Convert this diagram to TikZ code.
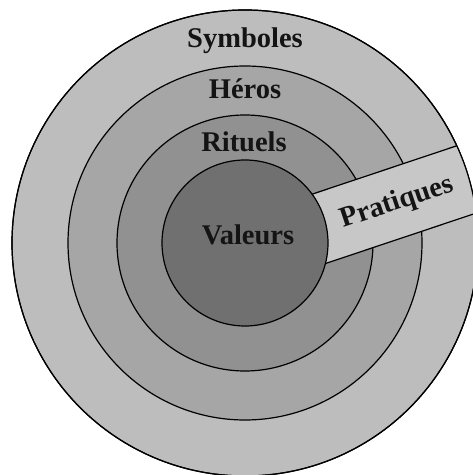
\documentclass[tikz,border=0pt]{standalone}
\usepackage{tikz}
\usepackage{fontspec}
\setmainfont{Liberation Serif}
\definecolor{ringA}{gray}{0.74}
\definecolor{ringB}{gray}{0.65}
\definecolor{ringC}{gray}{0.57}
\definecolor{ringD}{gray}{0.44}
\definecolor{bandc}{gray}{0.78}
\tikzset{
  ring/.style={draw=black, line width=1.2pt},
  lab/.style={font=\fontsize{28.5}{32}\selectfont\bfseries, inner sep=0pt, text=black!92},
}
\begin{document}
\begin{tikzpicture}[x=1pt,y=1pt]
\useasboundingbox (0,0) rectangle (473,475);
\coordinate (C) at (245,232);
\path[ring, fill=ringA] (C) circle (233);
\path[ring, fill=ringB] (C) circle (177);
\path[ring, fill=ringC] (C) circle (128);
\begin{scope}
  \clip (C) circle (233);
  \begin{scope}[shift={(C)}, rotate=18.5]
    \path[ring, fill=bandc] (0,-45) rectangle (300,25);
    \node[lab, rotate=18.5] (prat) at (157,-10) {Pratiques};
  \end{scope}
\end{scope}
\path[ring] (C) circle (233);
\path[ring, fill=ringD] (C) circle (83);
\node[lab, anchor=base] (sym) at (245,427) {Symboles};
\node[lab, anchor=base] (her) at (245,376) {Héros};
\node[lab, anchor=base] (rit) at (244,323) {Rituels};
\node[lab, anchor=base] (val) at (248,230) {Valeurs};
\end{tikzpicture}
\end{document}
